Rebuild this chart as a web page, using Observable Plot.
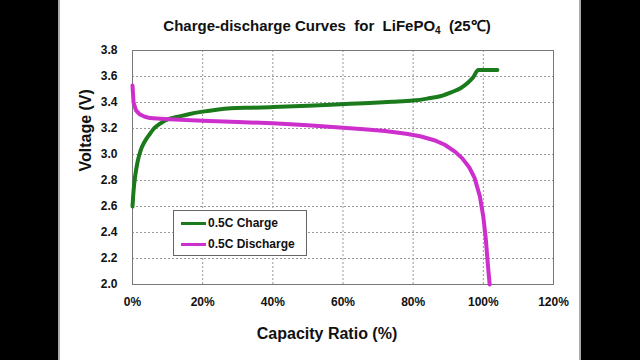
<!DOCTYPE html>
<html>
<head>
<meta charset="utf-8">
<script src="https://cdn.jsdelivr.net/npm/d3@7"></script>
<script src="https://cdn.jsdelivr.net/npm/@observablehq/plot@0.6"></script>
<style>
  html, body { margin: 0; padding: 0; background: #000; }
  #wrap { position: relative; width: 640px; height: 360px; overflow: hidden; background: #000; font-family: "Liberation Sans", Arial, sans-serif; }
  #panel { position: absolute; left: 58px; top: 0; width: 519px; height: 360px; background: #fff; border-left: 2px solid #aaa; border-right: 2px solid #aaa; }
  #chart { position: absolute; left: 0; top: 0; }
  #title { position: absolute; left: 327px; top: 15px; transform: translateX(-50%); white-space: pre; font-weight: bold; font-size: 15px; color: #111; }
  #title sub { font-size: 10px; vertical-align: -3px; line-height: 0; }
  #legend { position: absolute; left: 173px; top: 210px; width: 132px; height: 44px; border: 1px solid #666; background: #fff; font-weight: bold; font-size: 12px; color: #111; }
  .row { position: absolute; left: 7px; display: flex; align-items: center; }
  .sw { width: 25px; height: 3px; margin-right: 2px; }
</style>
</head>
<body>
<div id="wrap">
  <div id="panel"></div>
  <div id="chart"></div>
  <div id="title">Charge-discharge Curves  for  LiFePO<sub>4</sub>  (25℃)</div>
  <div id="legend"></div>
</div>
<script>
const chargeCapacity = [0, 0.3, 0.85, 1.5, 2.3, 3.5, 5, 6.5, 8, 10, 13, 16, 20, 24, 28, 34, 40, 50, 58, 66, 74, 80, 84, 88, 91, 93.5, 95.5, 97, 98.6, 104];
const chargeVoltage  = [2.6, 2.72, 2.85, 2.95, 3.03, 3.1, 3.16, 3.21, 3.24, 3.27, 3.29, 3.31, 3.33, 3.345, 3.355, 3.36, 3.365, 3.375, 3.385, 3.395, 3.405, 3.415, 3.43, 3.45, 3.48, 3.51, 3.55, 3.59, 3.65, 3.65];
const dischargeCapacity = [0, 0.3, 1, 2, 3.5, 5, 8, 12, 20, 30, 40, 50, 58, 66, 72, 78, 82, 86, 89, 92, 94, 96, 97.5, 99, 100, 100.7, 101.3, 101.8];
const dischargeVoltage  = [3.53, 3.4, 3.34, 3.31, 3.29, 3.28, 3.275, 3.27, 3.26, 3.25, 3.24, 3.225, 3.21, 3.195, 3.18, 3.16, 3.14, 3.11, 3.075, 3.02, 2.97, 2.9, 2.82, 2.68, 2.52, 2.35, 2.15, 2.0];
const xTicks = [0, 20, 40, 60, 80, 100, 120];
const yTicks = [2.0, 2.2, 2.4, 2.6, 2.8, 3.0, 3.2, 3.4, 3.6, 3.8];
const seriesNames = ["0.5C Charge", "0.5C Discharge"];
const seriesColors = ["#1b7a1b", "#cc2fcc"];

const charge = chargeCapacity.map((c, i) => ({c, v: chargeVoltage[i]}));
const discharge = dischargeCapacity.map((c, i) => ({c, v: dischargeVoltage[i]}));

const plot = Plot.plot({
  width: 640,
  height: 360,
  marginLeft: 132,
  marginRight: 87,
  marginTop: 50,
  marginBottom: 76,
  style: { background: "transparent", fontFamily: "'Liberation Sans', Arial, sans-serif", fontSize: "12px", fontWeight: "bold", color: "#111" },
  x: { domain: [0, 120] },
  y: { domain: [2.0, 3.8] },
  marks: [
    Plot.gridX(xTicks, { stroke: "#999", strokeOpacity: 1, strokeDasharray: "2,2" }),
    Plot.gridY(yTicks, { stroke: "#999", strokeOpacity: 1, strokeDasharray: "2,2" }),
    Plot.frame({ stroke: "#777" }),
    Plot.axisX(xTicks, { tickSize: 0, tickPadding: 13, tickFormat: d => d + "%", label: null }),
    Plot.axisY(yTicks, { tickSize: 0, tickPadding: 15, tickFormat: d => d.toFixed(1), label: null }),
    Plot.line(charge, { x: "c", y: "v", stroke: seriesColors[0], strokeWidth: 4, curve: "monotone-x" }),
    Plot.line(discharge, { x: "c", y: "v", stroke: seriesColors[1], strokeWidth: 4, curve: "linear" }),
    Plot.text(["Capacity Ratio (%)"], { frameAnchor: "bottom", dx: -16, dy: 54, fontSize: 16, fontWeight: "bold", fill: "#111" }),
    Plot.text(["Voltage (V)"], { frameAnchor: "left", rotate: -90, dx: -47, dy: 4, fontSize: 16, fontWeight: "bold", fill: "#111" })
  ]
});
document.getElementById("chart").appendChild(plot);

const legend = document.getElementById("legend");
seriesNames.forEach((name, i) => {
  const row = document.createElement("div");
  row.className = "row";
  row.style.top = (i === 0 ? 5 : 26) + "px";
  const sw = document.createElement("div");
  sw.className = "sw";
  sw.style.background = seriesColors[i];
  const t = document.createElement("span");
  t.textContent = name;
  row.appendChild(sw);
  row.appendChild(t);
  legend.appendChild(row);
});
</script>
</body>
</html>
